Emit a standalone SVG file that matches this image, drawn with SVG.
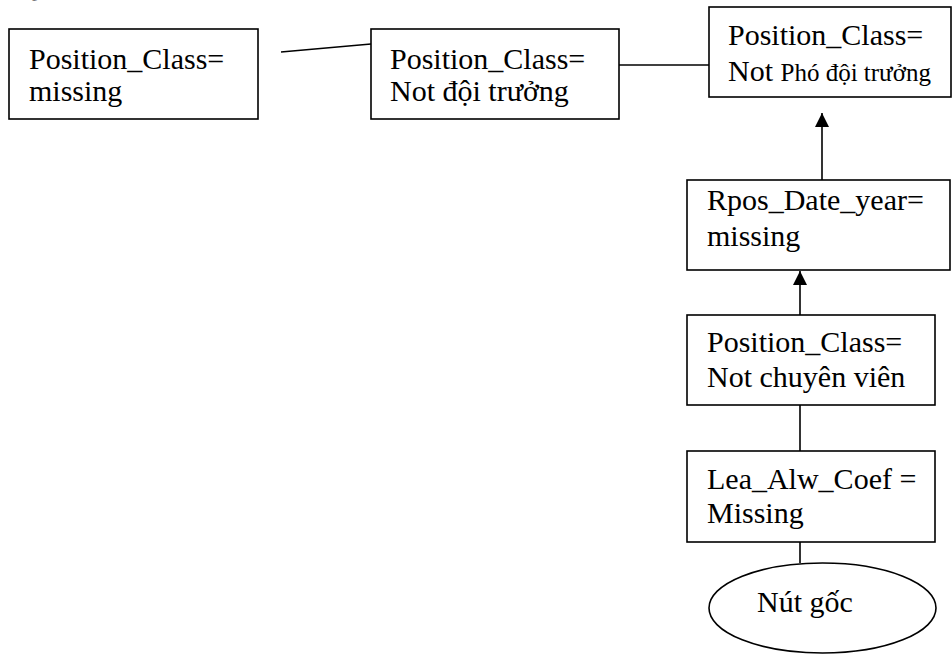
<svg xmlns="http://www.w3.org/2000/svg" width="952" height="654" viewBox="0 0 952 654">
<style>
.box{fill:#fff;stroke:#000;stroke-width:1.6}
.t{font-family:"Liberation Serif","Times New Roman",serif;font-size:30px;fill:#000}
.s{font-size:25px}
.c{stroke:#000;stroke-width:1.6;fill:none}
</style>
<defs>
<marker id="ah" markerWidth="14" markerHeight="14" refX="14" refY="7" orient="auto" markerUnits="userSpaceOnUse">
<path d="M0,0 L14,7 L0,14 Z" fill="#000"/>
</marker>
</defs>
<rect width="952" height="654" fill="#fff"/>
<text class="t" x="16" y="-4">Q</text>
<g id="connectors">
<line class="c" x1="281" y1="52" x2="371" y2="44"/>
<line class="c" x1="619" y1="65" x2="709" y2="65"/>
<line class="c" x1="822" y1="180" x2="822" y2="113" marker-end="url(#ah)"/>
<line class="c" x1="800" y1="315" x2="800" y2="271" marker-end="url(#ah)"/>
<line class="c" x1="800" y1="405" x2="800" y2="451"/>
<line class="c" x1="800" y1="542" x2="800" y2="563"/>
</g>
<g id="n1">
<rect class="box" x="9" y="29" width="249" height="90"/>
<text class="t" x="29" y="69">Position_Class=</text>
<text class="t" x="29" y="101">missing</text>
</g>
<g id="n2">
<rect class="box" x="371" y="29" width="248" height="90"/>
<text class="t" x="390" y="69">Position_Class=</text>
<text class="t" x="390" y="101">Not đội trưởng</text>
</g>
<g id="n3">
<rect class="box" x="709" y="7" width="242" height="90"/>
<text class="t" x="728" y="45">Position_Class=</text>
<text class="t" x="728" y="81">Not <tspan class="s">Phó đội trưởng</tspan></text>
</g>
<g id="n4">
<rect class="box" x="687" y="180" width="263" height="90"/>
<text class="t" x="707" y="210">Rpos_Date_year=</text>
<text class="t" x="707" y="246">missing</text>
</g>
<g id="n5">
<rect class="box" x="687" y="315" width="248" height="90"/>
<text class="t" x="707" y="352">Position_Class=</text>
<text class="t" x="707" y="387">Not chuyên viên</text>
</g>
<g id="n6">
<rect class="box" x="687" y="451" width="248" height="91"/>
<text class="t" x="707" y="489">Lea_Alw_Coef =</text>
<text class="t" x="707" y="523">Missing</text>
</g>
<g id="n7">
<ellipse class="box" cx="822.5" cy="608" rx="113.5" ry="45"/>
<text class="t" x="757" y="612">Nút gốc</text>
</g>
</svg>
